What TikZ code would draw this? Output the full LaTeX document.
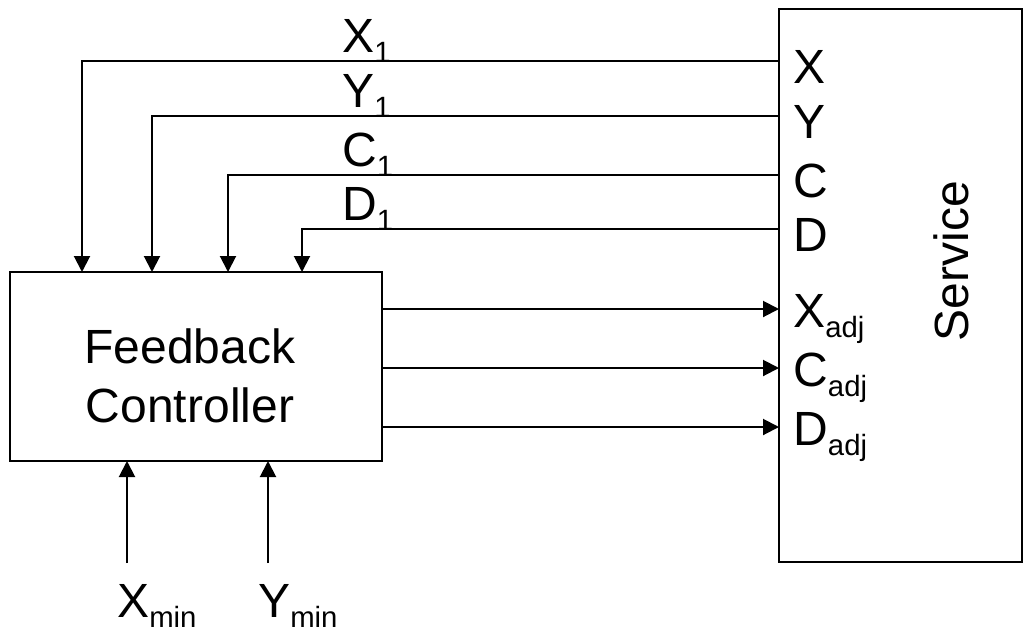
\documentclass[tikz,border=0pt]{standalone}
\usepackage{fontspec}
\setmainfont{Liberation Sans}
\usetikzlibrary{arrows.meta}

\newcommand{\lblsub}[2]{#1\raisebox{-8pt}{\fontsize{22}{22}\selectfont #2}}

\tikzset{
    block/.style={draw, line width=1.5pt, rectangle, inner sep=0pt},
    wire/.style={line width=1.5pt},
    sig/.style={wire, -{Triangle[length=12pt, width=12pt]}},
    lbl/.style={anchor=base west, inner sep=0pt}
}

\begin{document}
\begin{tikzpicture}[x=0.75pt, y=-0.75pt, font=\fontsize{36}{43}\selectfont]
    \useasboundingbox (0,0) rectangle (1028,636);

    % Boxes
    \node[block, minimum width=279pt, minimum height=141.75pt] (fb) at (196,366.5) {};
    \node[align=center, inner sep=0pt] (fblbl) at (190,376) {Feedback\\[1pt]Controller};
    \node[block, minimum width=182.25pt, minimum height=414.75pt] (svc) at (900.5,285.5) {};
    \node[rotate=90] (svclbl) at (951,261) {Service};

    % Measured outputs fed back
    \foreach \nm/\y/\x in {X/61/82, Y/116/152, C/175/228, D/229/302} {
        \coordinate (out\nm) at (779,\y);
        \coordinate (in\nm) at (\x,272);
        \draw[sig] (out\nm) -| (in\nm);
        \node[lbl] (port\nm) at (793,\y+22) {\nm};
        \node[lbl] (meas\nm) at (342,\y-9) {\lblsub{\nm}{1}};
    }

    % Adjustments sent to the service
    \foreach \nm/\y in {X/309, C/368, D/427} {
        \coordinate (src\nm) at (382,\y);
        \coordinate (dst\nm) at (779,\y);
        \draw[sig] (src\nm) -- (dst\nm);
        \node[lbl] (adj\nm) at (793,\y+18) {\lblsub{\nm}{adj}};
    }

    % Limits
    \foreach \nm/\x in {X/127, Y/268} {
        \coordinate (lim\nm) at (\x,563);
        \coordinate (fbin\nm) at (\x,461);
        \draw[sig] (lim\nm) -- (fbin\nm);
        \node[lbl] (min\nm) at (\x-10,617) {\lblsub{\nm}{min}};
    }
\end{tikzpicture}
\end{document}
